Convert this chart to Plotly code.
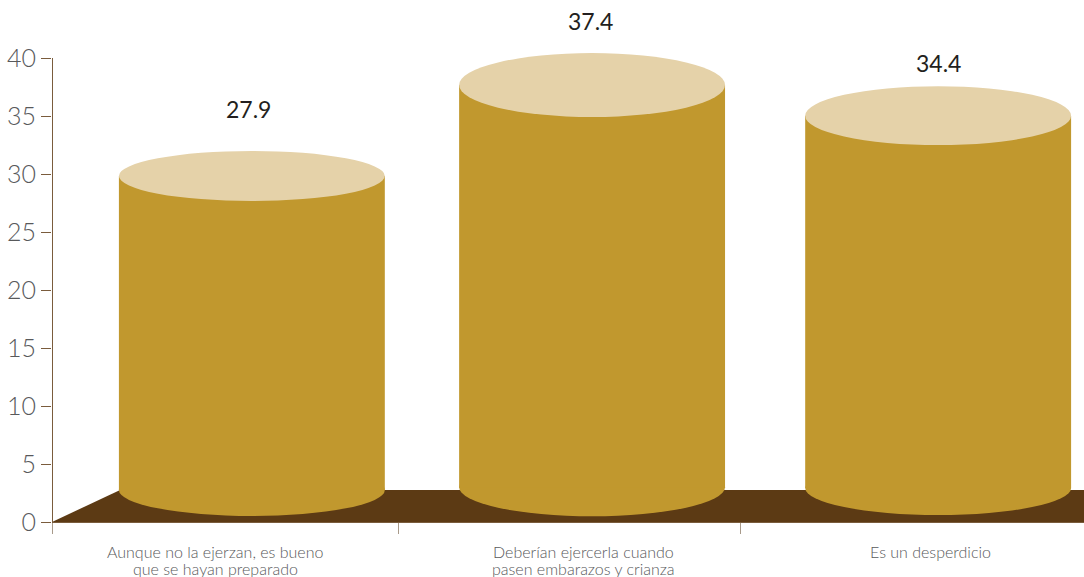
import plotly.graph_objects as go

categories = [["Aunque no la ejerzan, es bueno", "que se hayan preparado"],
              ["Deberían ejercerla cuando", "pasen embarazos y crianza"],
              ["Es un desperdicio"]]
values = [27.9, 37.4, 34.4]
y_ticks = [0, 5, 10, 15, 20, 25, 30, 35, 40]
x_ticks = [0, 1.006, 2.0, 3]

# cylinder geometry, in axis units
centers = [0.581, 1.57, 2.576]
label_x = [0.474, 1.544, 2.555]
value_x = [0.570, 1.564, 2.576]
value_label_y = [35.6, 43.2, 39.6]
body_width = 0.773
cap_level = [29.83, 37.67, 35.03]
cap_radius = [2.16, 2.76, 2.54]
base_level = [2.76, 3.0, 2.93]
base_radius = [2.24, 2.5, 2.33]
floor_depth = 2.76
floor_inset = 0.198
axis_top = 40

GOLD = "#c1982e"
CAP = "#e5d2a9"
FLOOR = "#5c3a14"
AXIS = "#7a5c3c"
FONT = "Lato"

fig = go.Figure()
fig.add_trace(go.Bar(
    x=centers,
    y=[c - b for c, b in zip(cap_level, base_level)],
    base=base_level,
    width=body_width,
    marker=dict(color=GOLD, line=dict(width=0)),
    hoverinfo="skip",
))

shapes = [
    dict(type="path", layer="below",
         path=f"M 0 0 L {floor_inset} {floor_depth} L 3 {floor_depth} L 3 0 Z",
         xref="x", yref="y", fillcolor=FLOOR, line=dict(width=0)),
    dict(type="line", layer="above", xref="x", yref="y", x0=0, x1=0, y0=0, y1=axis_top,
         line=dict(color=AXIS, width=2)),
]
for cx, lvl, r in zip(centers, base_level, base_radius):
    shapes.append(dict(type="circle", layer="below", xref="x", yref="y",
                       x0=cx - body_width / 2, x1=cx + body_width / 2,
                       y0=lvl - r, y1=lvl + r,
                       fillcolor=GOLD, line=dict(width=0)))
for cx, lvl, r in zip(centers, cap_level, cap_radius):
    shapes.append(dict(type="circle", layer="above", xref="x", yref="y",
                       x0=cx - body_width / 2, x1=cx + body_width / 2,
                       y0=lvl - r, y1=lvl + r,
                       fillcolor=CAP, line=dict(width=0)))

annotations = []
for x, y, v in zip(value_x, value_label_y, values):
    annotations.append(dict(x=x, y=y, text=f"{v:.1f}", showarrow=False, xref="x", yref="y",
                            font=dict(family=FONT, size=23, color="#231f20")))
for x, lines in zip(label_x, categories):
    for i, line in enumerate(lines):
        annotations.append(dict(x=x, y=0, yref="y", xref="x", text=line, showarrow=False,
                                yanchor="middle", yshift=-29 - 17 * i,
                                font=dict(family=FONT, size=16, color="#58595b", weight=300)))

fig.update_layout(
    width=1084, height=577,
    margin=dict(l=52, r=0, t=0, b=55),
    paper_bgcolor="white", plot_bgcolor="rgba(0,0,0,0)",
    showlegend=False,
    shapes=shapes, annotations=annotations,
    xaxis=dict(range=[0, 3], tickvals=x_ticks, ticktext=["", "", "", ""],
               ticks="outside", ticklen=11, tickcolor="#a89a8a", tickwidth=1,
               showgrid=False, zeroline=False, showline=True, linecolor=AXIS, linewidth=1),
    yaxis=dict(range=[0, 45], tickvals=y_ticks,
               ticks="outside", ticklen=10, tickcolor=AXIS, tickwidth=1,
               showgrid=False, zeroline=False, showline=False,
               tickfont=dict(family=FONT, size=25, color="#58595b", weight=300)),
)

fig.write_html("out.html", config=dict(displayModeBar=False),
               post_script="document.body.style.margin='0';document.body.style.overflow='hidden';")
